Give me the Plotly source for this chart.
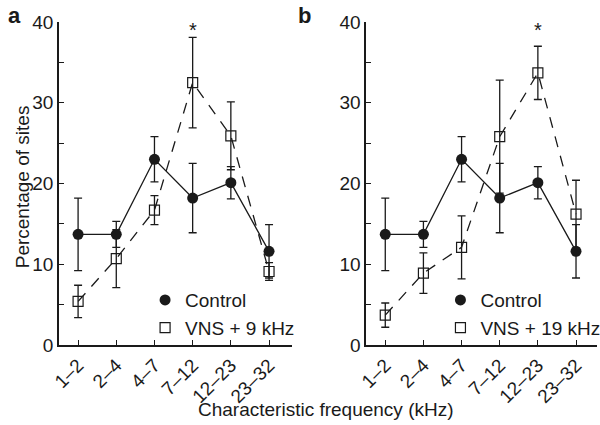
import plotly.graph_objects as go

categories = ["1–2", "2–4", "4–7", "7–12", "12–23", "23–32"]

control = [13.7, 13.7, 23.0, 18.2, 20.1, 11.6]
control_err = [4.5, 1.6, 2.8, 4.3, 2.0, 3.3]

vns9 = [5.4, 10.7, 16.7, 32.5, 25.9, 9.1]
vns9_err = [2.0, 3.6, 1.8, 5.6, 4.2, 1.1]

vns19 = [3.7, 8.9, 12.1, 25.8, 33.7, 16.2]
vns19_err = [1.5, 2.5, 3.9, 7.0, 3.3, 4.2]

star_a = (3, 39.0)
star_b = (4, 39.0)

ytickvals = [0, 5, 10, 15, 20, 25, 30, 35, 40]
yticktext = ["0", "", "10", "", "20", "", "30", "", "40"]

FONT = "Liberation Sans, Arial, Helvetica, sans-serif"
FS = 19
INK = "#1a1a1a"
xidx = list(range(len(categories)))

fig = go.Figure()


def add_panel(xa, ya, vns, vns_err, lname, lab):
    fig.add_trace(go.Scatter(
        x=xidx, y=vns, xaxis=xa, yaxis=ya, mode="lines+markers",
        line=dict(color=INK, width=1.3, dash="11px,9px"),
        marker=dict(symbol="square-open", size=10, color=INK, line=dict(width=1.2)),
        error_y=dict(type="data", array=vns_err, color=INK, thickness=1.3, width=4),
        showlegend=False, cliponaxis=False))
    fig.add_trace(go.Scatter(
        x=xidx, y=control, xaxis=xa, yaxis=ya, mode="lines+markers",
        line=dict(color=INK, width=1.3),
        marker=dict(symbol="circle", size=11, color=INK),
        error_y=dict(type="data", array=control_err, color=INK, thickness=1.3, width=4),
        showlegend=False, cliponaxis=False))
    fig.add_trace(go.Scatter(
        x=[None], y=[None], xaxis=xa, yaxis=ya, mode="markers",
        marker=dict(symbol="circle", size=11, color=INK),
        name="Control", legend=lname))
    fig.add_trace(go.Scatter(
        x=[None], y=[None], xaxis=xa, yaxis=ya, mode="markers",
        marker=dict(symbol="square-open", size=10, color=INK, line=dict(width=1.2)),
        name=lab, legend=lname))


add_panel("x", "y", vns9, vns9_err, "legend", "VNS + 9 kHz")
add_panel("x2", "y2", vns19, vns19_err, "legend2", "VNS + 19 kHz")

axis_common = dict(showline=True, linecolor=INK, linewidth=1.5, ticks="inside",
                   tickcolor=INK, ticklen=5, tickwidth=1.2, showgrid=False,
                   zeroline=False, mirror=False, automargin=False,
                   tickfont=dict(family=FONT, size=FS, color=INK))

xcommon = dict(axis_common, tickmode="array", tickvals=xidx, ticktext=categories,
               tickangle=-45, range=[-0.5, 5.6])
ycommon = dict(axis_common, tickmode="array", tickvals=ytickvals,
               ticktext=yticktext, range=[0, 40])

fig.update_layout(
    width=600, height=425,
    margin=dict(l=59, r=3, t=22, b=80, autoexpand=False),
    paper_bgcolor="white", plot_bgcolor="white",
    font=dict(family=FONT, size=FS, color=INK),
    xaxis=dict(xcommon, domain=[0, 0.433], anchor="y"),
    yaxis=dict(ycommon, domain=[0, 1], anchor="x"),
    xaxis2=dict(xcommon, domain=[0.571, 1], anchor="y2", range=[-0.5, 5.55]),
    yaxis2=dict(ycommon, domain=[0, 1], anchor="x2"),
    legend=dict(x=0.16, y=0.198, xanchor="left", yanchor="top",
                bgcolor="rgba(0,0,0,0)", font=dict(size=FS, family=FONT),
                itemwidth=30, tracegroupgap=0),
    legend2=dict(x=0.709, y=0.198, xanchor="left", yanchor="top",
                 bgcolor="rgba(0,0,0,0)", font=dict(size=FS, family=FONT),
                 itemwidth=30, tracegroupgap=0),
    annotations=[
        dict(x=star_a[0], y=star_a[1], xref="x", yref="y", text="*",
             showarrow=False, yshift=0, font=dict(size=20, family=FONT)),
        dict(x=star_b[0], y=star_b[1], xref="x2", yref="y2", text="*",
             showarrow=False, yshift=0, font=dict(size=20, family=FONT)),
        dict(x=0.496, y=-0.201, xref="paper", yref="paper", yanchor="middle",
             text="Characteristic frequency (kHz)", showarrow=False,
             font=dict(size=FS, family=FONT)),
        dict(x=-0.091, y=0.49, xref="paper", yref="paper",
             text="Percentage of sites", textangle=-90, showarrow=False,
             font=dict(size=FS, family=FONT)),
        dict(x=-0.098, y=1.065, xref="paper", yref="paper", xanchor="left",
             text="<b>a</b>", showarrow=False, font=dict(size=22, family=FONT)),
        dict(x=0.44, y=1.065, xref="paper", yref="paper", xanchor="left",
             text="<b>b</b>", showarrow=False, font=dict(size=22, family=FONT)),
    ],
)

fig.write_html(
    "out.html",
    config={"displayModeBar": False},
    post_script="document.body.style.margin='0';document.body.style.padding='0';",
)
